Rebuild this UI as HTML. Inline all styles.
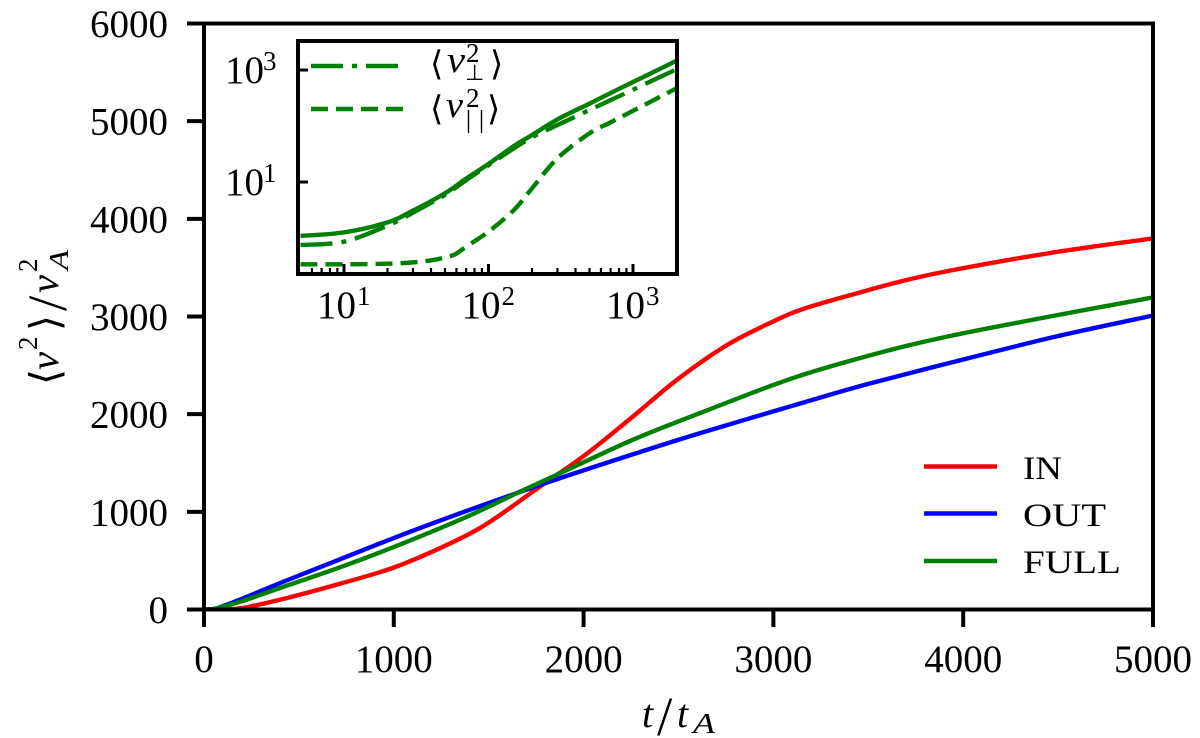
<!DOCTYPE html>
<html>
<head>
<meta charset="utf-8">
<title>Velocity growth chart</title>
<style>
html,body{margin:0;padding:0;background:#fff;width:1200px;height:738px;overflow:hidden}
svg{display:block}
text{font-family:"Liberation Serif","DejaVu Serif",serif;fill:#000}
.it{font-style:italic}
.br{font-family:"DejaVu Sans","Liberation Serif",sans-serif}
</style>
</head>
<body>
<svg id="chart" xmlns="http://www.w3.org/2000/svg" width="1200" height="738" viewBox="0 0 1200 738">
<defs>
<clipPath id="main-clip"><rect x="204" y="23.5" width="949" height="586"/></clipPath>
<clipPath id="inset-clip"><rect x="298" y="41" width="379" height="233"/></clipPath>
</defs>
<rect x="0" y="0" width="1200" height="738" fill="#fff"/>
<g id="main-series" clip-path="url(#main-clip)"></g>
<g id="main-ticks"></g>
<rect x="204" y="23.5" width="949" height="586" fill="none" stroke="#000" stroke-width="4"/>

<g transform="translate(58,383) rotate(-90)">
<text class="br" x="-2" y="1" font-size="41">⟨</text>
<text class="it" x="13" y="0" font-size="40" textLength="18" lengthAdjust="spacingAndGlyphs">v</text>
<text x="33" y="-21" font-size="27">2</text>
<text class="br" x="52" y="1" font-size="41">⟩</text>
<text x="72" y="8" font-size="55">/</text>
<text class="it" x="90" y="0" font-size="40" textLength="18" lengthAdjust="spacingAndGlyphs">v</text>
<text x="111" y="-21" font-size="27">2</text>
<text class="it" x="113" y="10" font-size="27" textLength="20" lengthAdjust="spacingAndGlyphs">A</text>
</g>

<g>
<text class="it" x="642" y="727" font-size="40">t</text>
<text x="657" y="735" font-size="55">/</text>
<text class="it" x="677" y="727" font-size="40">t</text>
<text class="it" x="693" y="733" font-size="29" textLength="22" lengthAdjust="spacingAndGlyphs">A</text>
</g>

<g>
<line x1="924" y1="466.5" x2="997" y2="466.5" stroke="#ff0000" stroke-width="4.4"/>
<line x1="924" y1="513.5" x2="997" y2="513.5" stroke="#0000ff" stroke-width="4.4"/>
<line x1="924" y1="561" x2="997" y2="561" stroke="#008000" stroke-width="4.4"/>
<text x="1023" y="479" font-size="33" textLength="39" lengthAdjust="spacingAndGlyphs">IN</text>
<text x="1023" y="526" font-size="33" textLength="83" lengthAdjust="spacingAndGlyphs">OUT</text>
<text x="1023" y="573" font-size="33" textLength="98" lengthAdjust="spacingAndGlyphs">FULL</text>
</g>

<g>
<rect x="298" y="41" width="379" height="233" fill="#fff"/>
<g id="inset-series" clip-path="url(#inset-clip)"></g>
<g id="inset-ticks"></g>
<rect x="298" y="41" width="379" height="233" fill="none" stroke="#000" stroke-width="4"/>
<g>
<line x1="311" y1="66" x2="406" y2="66" stroke="#008000" stroke-width="4.4" stroke-dasharray="32 9 5 9"/>
<line x1="311" y1="109" x2="406" y2="109" stroke="#008000" stroke-width="4.4" stroke-dasharray="17 8"/>
<g>
<text class="br" x="430" y="75" font-size="34">⟨</text>
<text class="it" x="447" y="72" font-size="37" textLength="18" lengthAdjust="spacingAndGlyphs">v</text>
<text x="466" y="62" font-size="27">2</text>
<text class="br" x="465" y="80" font-size="22">⊥</text>
<text class="br" x="490" y="75" font-size="34">⟩</text>
</g>
<g>
<text class="br" x="430" y="120" font-size="34">⟨</text>
<text class="it" x="446" y="117" font-size="37" textLength="17" lengthAdjust="spacingAndGlyphs">v</text>
<text x="466" y="107" font-size="27">2</text>
<line x1="468.5" y1="110" x2="468.5" y2="133" stroke="#000" stroke-width="1.4"/>
<line x1="481.5" y1="110" x2="481.5" y2="133" stroke="#000" stroke-width="1.4"/>
<text class="br" x="487" y="120" font-size="34">⟩</text>
</g>
</g>
</g>
</svg>
<script>
// Main chart data
const mainXTicks = [0, 1000, 2000, 3000, 4000, 5000];
const mainYTicks = [0, 1000, 2000, 3000, 4000, 5000, 6000];

const inTimes = [0, 100, 200, 400, 700, 1000, 1300, 1500, 1800, 2000, 2250, 2490, 2755, 3000, 3177, 3500, 3683, 3930, 4457, 5000];
const inValues = [0, 1, 15, 100, 255, 430, 680, 890, 1300, 1570, 1960, 2349, 2707, 2950, 3090, 3270, 3365, 3470, 3650, 3800];

const outTimes = [0, 50, 100, 200, 400, 700, 1000, 1385, 1823, 2297, 2612, 3177, 3500, 4000, 4500, 5000];
const outValues = [0, 5, 35, 110, 270, 501, 732, 1010, 1310, 1612, 1805, 2130, 2310, 2560, 2800, 3010];

const fullTimes = [0, 50, 100, 200, 400, 700, 1000, 1385, 1647, 1893, 2262, 2612, 3103, 3562, 3930, 4457, 5000];
const fullValues = [0, 5, 30, 85, 220, 420, 640, 950, 1190, 1410, 1740, 2010, 2370, 2630, 2800, 3000, 3195];

// Inset chart data
const insetMajorX = [10, 100, 1000];
const insetMinorX = [6, 7, 8, 9, 20, 30, 40, 50, 60, 70, 80, 90, 200, 300, 400, 500, 600, 700, 800, 900, 2000];
const insetMajorY = [10, 1000];
const insetXExponents = ["1", "2", "3"];
const insetYExponents = ["1", "3"];

const insetFullTimes = [5, 10, 20, 30, 50, 70, 100, 150, 200, 300, 500, 700, 1000, 1500, 2000];
const insetFullValues = [1.09, 1.26, 1.9, 3.08, 6.3, 11.5, 21, 44, 69, 131, 251, 388, 611, 1014, 1468];

const insetPerpTimes = [5, 10, 20, 30, 50, 70, 100, 150, 200, 300, 500, 700, 1000, 1500, 2000];
const insetPerpValues = [0.75, 0.86, 1.66, 2.83, 5.9, 10.8, 20, 40, 63, 104, 193, 290, 445, 727, 1028];

const insetParTimes = [5, 10, 20, 30, 41.6, 50, 58.7, 70, 100, 150, 200, 300, 500, 700, 1000, 1500, 2000];
const insetParValues = [0.339, 0.339, 0.348, 0.367, 0.405, 0.452, 0.51, 0.7, 1.3, 3.16, 7.7, 26.5, 74, 116, 187, 321, 471];

const NS = 'http://www.w3.org/2000/svg';
const mainSeries = document.getElementById('main-series');
const mainTicks = document.getElementById('main-ticks');
const insetSeries = document.getElementById('inset-series');
const insetTicks = document.getElementById('inset-ticks');

function mainX(t) { return 204 + t * (949 / 5000); }
function mainY(v) { return 609.5 - v * (586 / 6000); }
function insetX(t) { return 344 + (Math.log10(t) - 1) * 144.5; }
function insetY(v) { return 182 - (Math.log10(v) - 1) * 56; }

function smoothPath(pts) {
  let d = 'M' + pts[0][0].toFixed(2) + ' ' + pts[0][1].toFixed(2);
  for (let i = 0; i < pts.length - 1; i++) {
    const p0 = pts[Math.max(0, i - 1)];
    const p1 = pts[i];
    const p2 = pts[i + 1];
    const p3 = pts[Math.min(pts.length - 1, i + 2)];
    const c1x = p1[0] + (p2[0] - p0[0]) / 6;
    const c1y = p1[1] + (p2[1] - p0[1]) / 6;
    const c2x = p2[0] - (p3[0] - p1[0]) / 6;
    const c2y = p2[1] - (p3[1] - p1[1]) / 6;
    d += 'C' + c1x.toFixed(2) + ' ' + c1y.toFixed(2) + ' ' + c2x.toFixed(2) + ' ' + c2y.toFixed(2) + ' ' + p2[0].toFixed(2) + ' ' + p2[1].toFixed(2);
  }
  return d;
}

function addSeries(parent, name, xs, ys, fx, fy, color, width, dash) {
  const el = document.createElementNS(NS, 'path');
  
  
  el.setAttribute('d', smoothPath(xs.map((x, i) => [fx(x), fy(ys[i])])));
  el.setAttribute('fill', 'none');
  el.setAttribute('stroke', color);
  el.setAttribute('stroke-width', width);
  if (dash) el.setAttribute('stroke-dasharray', dash);
  parent.appendChild(el);
}

function addTick(parent, name, x1, y1, x2, y2, width) {
  const el = document.createElementNS(NS, 'line');
  
  
  el.setAttribute('x1', x1);
  el.setAttribute('y1', y1);
  el.setAttribute('x2', x2);
  el.setAttribute('y2', y2);
  el.setAttribute('stroke', '#000');
  el.setAttribute('stroke-width', width);
  parent.appendChild(el);
}

function addLabel(parent, name, x, y, size, anchor, content) {
  const el = document.createElementNS(NS, 'text');
  
  
  el.setAttribute('x', x);
  el.setAttribute('y', y);
  el.setAttribute('font-size', size);
  el.setAttribute('text-anchor', anchor);
  el.textContent = content;
  parent.appendChild(el);
}

addSeries(mainSeries, 'series-in', inTimes, inValues, mainX, mainY, '#ff0000', 4.4);
addSeries(mainSeries, 'series-out', outTimes, outValues, mainX, mainY, '#0000ff', 4.4);
addSeries(mainSeries, 'series-full', fullTimes, fullValues, mainX, mainY, '#008000', 4.4);

mainXTicks.forEach(function (t) {
  addTick(mainTicks, 'x-tick', mainX(t), 609.5, mainX(t), 627, 4);
  addLabel(mainTicks, 'x-tick-label', mainX(t), 672, 39, 'middle', String(t));
});
mainYTicks.forEach(function (v) {
  addTick(mainTicks, 'y-tick', 187, mainY(v), 204, mainY(v), 4);
  addLabel(mainTicks, 'y-tick-label', 168, mainY(v) + 13.5, 39, 'end', String(v));
});

addSeries(insetSeries, 'inset-series-full', insetFullTimes, insetFullValues, insetX, insetY, '#008000', 4.4);
addSeries(insetSeries, 'inset-series-perp', insetPerpTimes, insetPerpValues, insetX, insetY, '#008000', 4.4, '32 9 5 9');
addSeries(insetSeries, 'inset-series-par', insetParTimes, insetParValues, insetX, insetY, '#008000', 4.4, '17 8');

insetMajorX.forEach(function (t, i) {
  addTick(insetTicks, 'inset-x-major-tick', insetX(t), 274, insetX(t), 264, 3);
  addLabel(insetTicks, 'inset-x-tick-base', insetX(t) - 27, 318, 39, 'start', '10');
  addLabel(insetTicks, 'inset-x-tick-exponent', insetX(t) + 13, 305, 27, 'start', insetXExponents[i]);
});
insetMinorX.forEach(function (t) {
  addTick(insetTicks, 'inset-x-minor-tick', insetX(t), 274, insetX(t), 268, 2.2);
});
insetMajorY.forEach(function (v, i) {
  addTick(insetTicks, 'inset-y-major-tick', 298, insetY(v), 308, insetY(v), 3);
  addLabel(insetTicks, 'inset-y-tick-base', 225, insetY(v) + 13, 39, 'start', '10');
  addLabel(insetTicks, 'inset-y-tick-exponent', 263, insetY(v), 27, 'start', insetYExponents[i]);
});
</script>
</body>
</html>
